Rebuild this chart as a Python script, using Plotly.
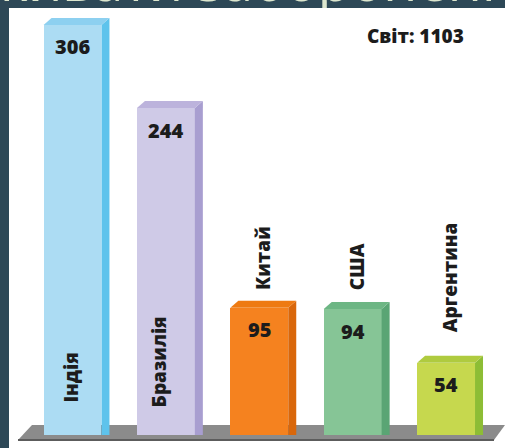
import plotly.graph_objects as go

# ---- data ----
countries = ["Індія", "Бразилія", "Китай", "США", "Аргентина"]
values = [306, 244, 95, 94, 54]
world_label = "Світ: 1103"
header_text = "кивати заборонені"

# ---- styles ----
front_colors = ["#acdcf3", "#cfcae7", "#f5821f", "#86c596", "#c6d84e"]
side_colors = ["#5ec3ec", "#a89ed0", "#d9670b", "#5aa574", "#8dbd35"]
top_colors = ["#8dd0f0", "#bcb3dc", "#ee7a12", "#6db684", "#afcb3f"]
name_inside = [True, True, False, False, False]
name_gap = [30, 26, 16, 17, 28]
name_dx = [-2, -7, 3, 4, 4]

W, H = 505, 448
PANEL_LEFT, PANEL_TOP = 9, 8
BAR_W = 0.62
px_per_x = 93.4
px_per_y = 1.34
DX = 8 / px_per_x
DY = 7 / px_per_y
BOLD = 800

xs = list(range(len(countries)))

fig = go.Figure()
fig.add_trace(go.Bar(
    x=xs, y=values, width=BAR_W,
    marker=dict(color=front_colors, line=dict(width=0)),
    hoverinfo="skip", xaxis="x", yaxis="y",
))

# header text, clipped by its own thin subplot
fig.add_trace(go.Scatter(
    x=[0], y=[21], mode="text", text=[header_text],
    textposition="middle right",
    textfont=dict(family="Open Sans", size=54, color="#dde7cf"),
    cliponaxis=True, hoverinfo="skip", xaxis="x2", yaxis="y2",
))

shapes = []
# white panel
shapes.append(dict(type="rect", xref="paper", yref="paper",
                   x0=PANEL_LEFT / W, x1=1, y0=0, y1=1 - PANEL_TOP / H,
                   fillcolor="white", line=dict(width=0), layer="below"))

def P(px, py):
    return f"{px / W:.5f},{1 - py / H:.5f}"

# floor slab
shapes.append(dict(type="path", xref="paper", yref="paper",
                   path=f"M{P(18,440)} L{P(32,425)} L{P(505,425)} L{P(494,440)} Z",
                   fillcolor="#8b8b8b", line=dict(width=0), layer="below"))
shapes.append(dict(type="line", xref="paper", yref="paper",
                   x0=18 / W, y0=1 - 440 / H, x1=494 / W, y1=1 - 440 / H,
                   line=dict(color="#5c5c5c", width=2), layer="below"))

# 3D side and top faces from the data values
for i, v in enumerate(values):
    x0 = xs[i] - BAR_W / 2
    x1 = xs[i] + BAR_W / 2
    shapes.append(dict(type="path", xref="x", yref="y",
                       path=f"M{x1},0 L{x1},{v} L{x1 + DX},{v + DY} L{x1 + DX},0 Z",
                       fillcolor=side_colors[i], line=dict(width=0)))
    shapes.append(dict(type="path", xref="x", yref="y",
                       path=f"M{x0},{v} L{x0 + DX},{v + DY} L{x1 + DX},{v + DY} L{x1},{v} Z",
                       fillcolor=top_colors[i], line=dict(width=0)))

annotations = []
for i, (c, v) in enumerate(zip(countries, values)):
    annotations.append(dict(x=xs[i], y=v, xref="x", yref="y", text=str(v),
                            showarrow=False, yshift=-22, yanchor="middle",
                            font=dict(family="Open Sans", size=20, color="#1c1c1c", weight=BOLD)))
    annotations.append(dict(x=xs[i], y=0 if name_inside[i] else v, xref="x", yref="y", text=c,
                            showarrow=False, textangle=-90, yanchor="bottom",
                            yshift=name_gap[i], xshift=name_dx[i],
                            font=dict(family="Open Sans", size=19, color="#1c1c1c", weight=BOLD)))

annotations.append(dict(x=415 / W, y=1 - 36 / H, xref="paper", yref="paper",
                        text=world_label, showarrow=False, xanchor="center", yanchor="middle",
                        font=dict(family="Open Sans", size=19, color="#1c1c1c", weight=BOLD)))

fig.update_layout(
    width=W, height=H,
    margin=dict(l=0, r=0, t=0, b=0),
    paper_bgcolor="#2d4857",
    plot_bgcolor="rgba(0,0,0,0)",
    showlegend=False,
    bargap=0,
    xaxis=dict(domain=[PANEL_LEFT / W, 1], range=[-0.68, 4.631], visible=False, fixedrange=True),
    yaxis=dict(domain=[0, 1 - PANEL_TOP / H], range=[-9.7, 318.66], visible=False, fixedrange=True),
    xaxis2=dict(domain=[0, 1], range=[0, W], visible=False, anchor="y2"),
    yaxis2=dict(domain=[1 - PANEL_TOP / H, 1], range=[0, PANEL_TOP], visible=False, anchor="x2"),
    shapes=shapes,
    annotations=annotations,
)

fig.write_html("out.html")
